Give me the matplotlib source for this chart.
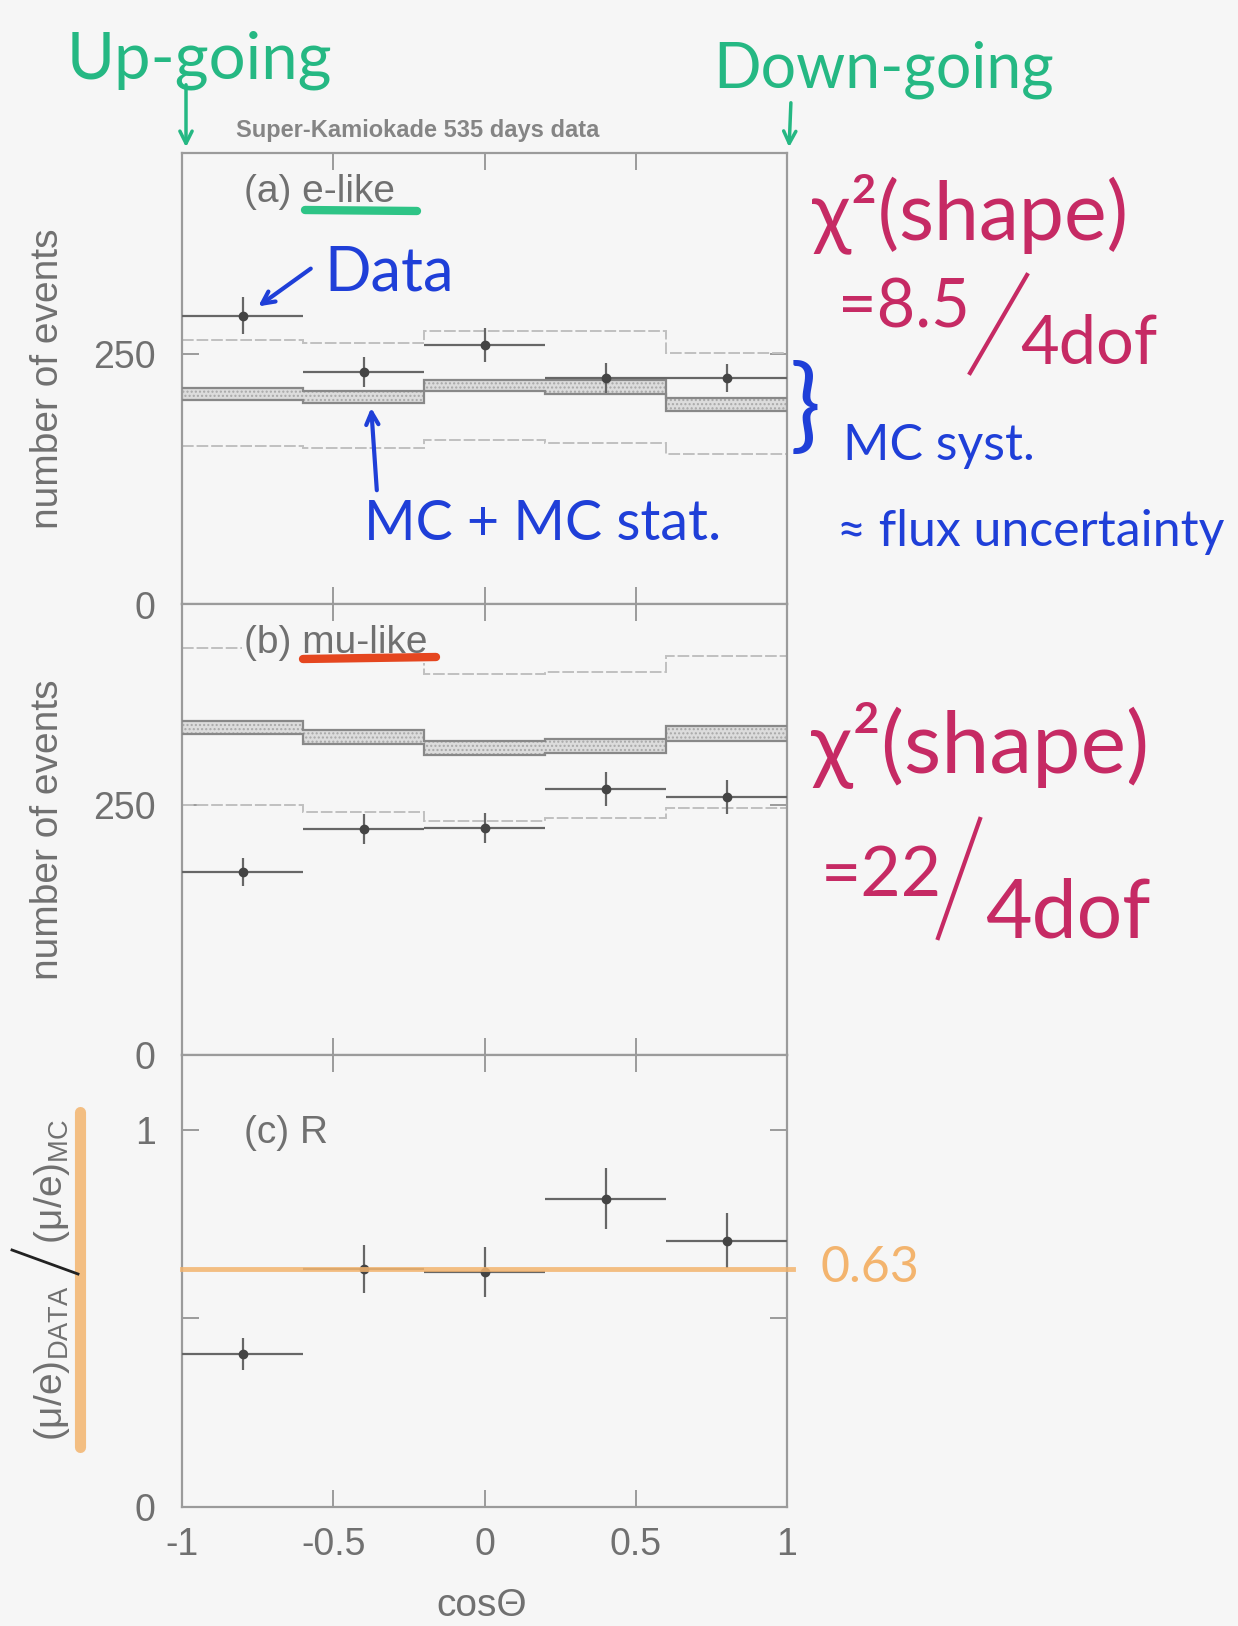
import matplotlib
matplotlib.use("Agg")
import matplotlib.pyplot as plt
from matplotlib.patches import FancyArrowPatch
from matplotlib.lines import Line2D

# zenith angle binning
edges = [-1.0, -0.6, -0.2, 0.2, 0.6, 1.0]
centers = [-0.8, -0.4, 0.0, 0.4, 0.8]
half_width = 0.2

# (a) e-like
e_data = [288, 232, 259, 226, 226]
e_err = [18, 15, 17, 15, 14]
e_mc_lo = [204, 201, 213, 210, 193]
e_mc_hi = [216, 213, 224, 224, 206]
e_sys_up = [264, 261, 273, 273, 251]
e_sys_dn = [158, 156, 164, 161, 150]

# (b) mu-like
mu_data = [183, 226, 227, 266, 258]
mu_err = [14, 15, 15, 17, 17]
mu_mc_lo = [321, 311, 300, 302, 314]
mu_mc_hi = [334, 325, 314, 316, 329]
mu_sys_up = [406, 400, 381, 383, 398]
mu_sys_dn = [250, 243, 234, 237, 247]

# (c) double ratio R
r_data = [0.405, 0.63, 0.623, 0.817, 0.705]
r_err = [0.042, 0.064, 0.066, 0.081, 0.073]
r_mean = 0.63

x_ticks = [-1, -0.5, 0, 0.5, 1]
x_ticklabels = ["-1", "-0.5", "0", "0.5", "1"]

W, H = 1238, 1626
BG = "#f6f6f6"
AXC = "#9b9b9b"
TXT = "#707070"
GREEN = "#25b883"
PINK = "#c62a64"
BLUE = "#1f3fd8"
ORANGE = "#f3b46e"
HAND = ["Lato", "DejaVu Sans"]

plt.rcParams["font.family"] = ["Liberation Sans", "DejaVu Sans"]
plt.rcParams["mathtext.fontset"] = "custom"
plt.rcParams["mathtext.rm"] = "Liberation Sans"
plt.rcParams["mathtext.it"] = "Liberation Sans:italic"
plt.rcParams["hatch.linewidth"] = 1.0


def fp(x, y):
    # pixel position (from top-left) -> figure fraction
    return x / W, 1 - y / H


fig = plt.figure(figsize=(W / 100, H / 100), dpi=100, facecolor=BG)


def add_panel(top, bottom):
    ax = fig.add_axes([182 / W, 1 - bottom / H, 605 / W, (bottom - top) / H])
    ax.set_facecolor(BG)
    for sp in ax.spines.values():
        sp.set_color(AXC)
        sp.set_linewidth(1.6)
    ax.tick_params(direction="in", top=True, right=True, length=12, width=1.4,
                   color=AXC, labelcolor=TXT, labelsize=27)
    ax.tick_params(axis="y", pad=19)
    ax.tick_params(axis="x", pad=15)
    ax.set_xlim(-1, 1)
    ax.set_xticks(x_ticks)
    return ax


ax_e = add_panel(153, 604.5)
ax_mu = add_panel(604.5, 1054.5)
ax_r = add_panel(1054.5, 1506.6)


def draw_counts(ax, data, err, lo, hi, up, dn):
    ax.stairs(hi, edges, baseline=lo, fill=True, facecolor="#dcdcdc",
              edgecolor="#a8a8a8", hatch="....", lw=0, zorder=2)
    ax.stairs(hi, edges, baseline=None, color="#888888", lw=1.6, zorder=3)
    ax.stairs(lo, edges, baseline=None, color="#888888", lw=1.6, zorder=3)
    for s in (up, dn):
        ax.stairs(s, edges, baseline=None, color="#c0c0c0", lw=1.4,
                  ls=(0, (6, 1.5)), zorder=2)
    ax.errorbar(centers, data, xerr=half_width, yerr=err, fmt="o", ms=6,
                color="#444444", ecolor="#666666", elinewidth=1.6, capsize=0,
                zorder=4)
    ax.set_ylim(0, 450)
    ax.set_yticks([0, 250])
    ax.set_xticklabels([])


draw_counts(ax_e, e_data, e_err, e_mc_lo, e_mc_hi, e_sys_up, e_sys_dn)
draw_counts(ax_mu, mu_data, mu_err, mu_mc_lo, mu_mc_hi, mu_sys_up, mu_sys_dn)

ax_r.errorbar(centers, r_data, xerr=half_width, yerr=r_err, fmt="o", ms=6,
              color="#444444", ecolor="#666666", elinewidth=1.6, capsize=0,
              zorder=3)
ax_r.plot([-1, 1.02], [r_mean, r_mean], color=ORANGE, lw=3.5, alpha=0.85,
          clip_on=False, zorder=4)
ax_r.set_ylim(0, 1.2)
ax_r.set_yticks([0, 0.5, 1])
ax_r.set_yticklabels(["0", "", "1"])
ax_r.set_xticklabels(x_ticklabels)

# panel labels
ax_e.text(0.102, 0.914, "(a) e-like", transform=ax_e.transAxes, ha="left",
          va="center", color=TXT, fontsize=28, zorder=5)
ax_mu.text(0.102, 0.914, "(b) mu-like", transform=ax_mu.transAxes, ha="left",
           va="center", color=TXT, fontsize=28, zorder=5,
           bbox=dict(facecolor=BG, edgecolor="none", pad=1))
ax_r.text(0.102, 0.826, "(c) R", transform=ax_r.transAxes, ha="left",
          va="center", color=TXT, fontsize=28, zorder=5)

# axis titles
fig.text(*fp(418, 130), "Super-Kamiokade 535 days data", ha="center",
         va="center", color="#858585", fontsize=17, fontweight="bold")
fig.text(*fp(482, 1606), "cos\u0398", ha="center", va="center", color=TXT,
         fontsize=28)
fig.text(*fp(48, 379), "number of events", rotation=90, ha="center",
         va="center", color=TXT, fontsize=28)
fig.text(*fp(48, 830), "number of events", rotation=90, ha="center",
         va="center", color=TXT, fontsize=28)

# highlighter stroke and slash on the ratio label
fig.add_artist(Line2D([80 / W, 80 / W], [1 - 1112 / H, 1 - 1447 / H],
                      color=ORANGE, lw=8, alpha=0.85, solid_capstyle="round"))
fig.text(*fp(52, 1280),
         r"$\mathrm{(\mu/e)_{DATA}}\ \ \ \ \mathrm{(\mu/e)_{MC}}$",
         rotation=90, ha="center", va="center", color=TXT, fontsize=28)
fig.add_artist(Line2D([12 / W, 78 / W], [1 - 1250 / H, 1 - 1274 / H],
                      color="#222222", lw=2))

# underlines
fig.add_artist(Line2D([305 / W, 417 / W], [1 - 210 / H, 1 - 211 / H],
                      color="#2ec486", lw=6, solid_capstyle="round"))
fig.add_artist(Line2D([303 / W, 436 / W], [1 - 659 / H, 1 - 657 / H],
                      color="#e5461f", lw=6, solid_capstyle="round"))


def arrow(p0, p1, color, lw=2.5):
    fig.add_artist(FancyArrowPatch(fp(*p0), fp(*p1), transform=fig.transFigure,
                                   arrowstyle="->", mutation_scale=22,
                                   color=color, lw=lw))


# direction notes
fig.text(*fp(199, 60), "Up-going", ha="center", va="center", color=GREEN,
         fontsize=47, family=HAND)
fig.text(*fp(884, 70), "Down-going", ha="center", va="center", color=GREEN,
         fontsize=45, family=HAND)
arrow((186, 82), (186, 150), GREEN)
arrow((791, 100), (789, 150), GREEN)

# data / MC notes
fig.text(*fp(389, 273), "Data", ha="center", va="center", color=BLUE,
         fontsize=44, family=HAND)
arrow((313, 267), (256, 308), BLUE, lw=3)
fig.text(*fp(543, 524), "MC + MC stat.", ha="center", va="center",
         color=BLUE, fontsize=40, family=HAND)
arrow((377, 493), (371, 405), BLUE, lw=3)

fig.text(*fp(805, 410), "}", ha="center", va="center", color=BLUE,
         fontsize=74, family=HAND)
fig.text(*fp(939, 446), "MC syst.", ha="center", va="center", color=BLUE,
         fontsize=36, family=HAND)
fig.text(*fp(837, 532), "\u2248 flux uncertainty", ha="left", va="center",
         color=BLUE, fontsize=36, family=HAND)

# chi-square notes
fig.text(*fp(970, 214), "\u03c7\u00b2(shape)", ha="center", va="center",
         color=PINK, fontsize=58, family=HAND)
fig.text(*fp(904, 308), "=8.5", ha="center", va="center", color=PINK,
         fontsize=48, family=HAND)
fig.add_artist(Line2D([970 / W, 1027 / W], [1 - 373 / H, 1 - 275 / H],
                      color=PINK, lw=3))
fig.text(*fp(1089, 345), "4dof", ha="center", va="center", color=PINK,
         fontsize=48, family=HAND)

fig.text(*fp(980, 745), "\u03c7\u00b2(shape)", ha="center", va="center",
         color=PINK, fontsize=62, family=HAND)
fig.text(*fp(881, 876), "=22", ha="center", va="center", color=PINK,
         fontsize=50, family=HAND)
fig.add_artist(Line2D([938 / W, 980 / W], [1 - 938 / H, 1 - 819 / H],
                      color=PINK, lw=3))
fig.text(*fp(1068, 914), "4dof", ha="center", va="center", color=PINK,
         fontsize=58, family=HAND)

fig.text(*fp(870, 1268), "0.63", ha="center", va="center", color=ORANGE,
         fontsize=36, family=HAND)

fig.savefig("out.png", dpi=100, facecolor=BG)
